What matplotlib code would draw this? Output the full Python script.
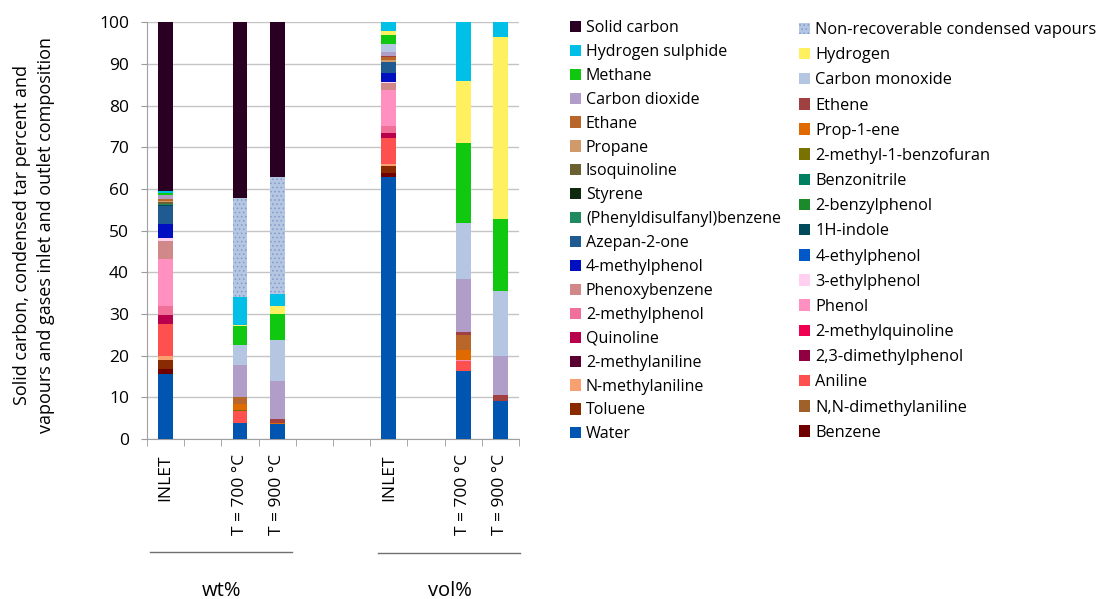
import matplotlib
matplotlib.use("Agg")
import matplotlib.pyplot as plt
from matplotlib.lines import Line2D

plt.rcParams['font.family'] = ['Open Sans', 'DejaVu Sans']
plt.rcParams['hatch.linewidth'] = 0.6

# stacking order, bottom to top
species = [
    "Water", "Benzene", "Toluene", "N,N-dimethylaniline", "N-methylaniline",
    "Aniline", "2-methylaniline", "2,3-dimethylphenol", "Quinoline",
    "2-methylquinoline", "2-methylphenol", "Phenol", "Phenoxybenzene",
    "3-ethylphenol", "4-methylphenol", "4-ethylphenol", "Azepan-2-one",
    "1H-indole", "(Phenyldisulfanyl)benzene", "2-benzylphenol", "Styrene",
    "Benzonitrile", "Isoquinoline", "2-methyl-1-benzofuran", "Propane",
    "Prop-1-ene", "Ethane", "Ethene", "Carbon dioxide", "Carbon monoxide",
    "Methane", "Hydrogen", "Hydrogen sulphide",
    "Non-recoverable condensed vapours", "Solid carbon",
]
colors = [
    "#0055b0", "#700000", "#8a2a00", "#a0602a", "#f8a070",
    "#ff5050", "#5a0030", "#900040", "#b8004c",
    "#f00050", "#f0709a", "#ff90c0", "#d08888",
    "#ffd0f0", "#0010c0", "#0058c8", "#1f5a90",
    "#004a5a", "#1f8a5f", "#1a8a2a", "#0f2a0f",
    "#008060", "#6b6030", "#7a7200", "#d09a6a",
    "#e06a00", "#b8662a", "#a04040", "#b09ec8", "#b4c6e2",
    "#10c810", "#fff060", "#00c0e8",
    "#b4c6e2", "#2a0022",
]

# slot positions (10 slots, blanks between groups)
slot_labels = ["INLET", "", "T = 700 °C", "T = 900 °C", "", "",
               "INLET", "", "T = 700 °C", "T = 900 °C"]
bar_slots = [0, 2, 3, 6, 8, 9]

wt_inlet = {"Water": 15.6, "Benzene": 1.1, "Toluene": 2.3, "N-methylaniline": 0.8,
            "Aniline": 7.7, "Quinoline": 2.3, "2-methylphenol": 2.1, "Phenol": 11.3,
            "Phenoxybenzene": 4.4, "3-ethylphenol": 0.6, "4-methylphenol": 3.4,
            "Azepan-2-one": 4.3, "1H-indole": 0.2, "(Phenyldisulfanyl)benzene": 0.4,
            "Isoquinoline": 0.3, "Propane": 0.4, "Ethane": 0.3, "Ethene": 0.2,
            "Carbon dioxide": 0.8, "Methane": 0.6, "Hydrogen sulphide": 0.5,
            "Solid carbon": 40.4}
wt_700 = {"Water": 3.8, "Aniline": 2.8, "2-methyl-1-benzofuran": 0.4, "Prop-1-ene": 1.5,
          "Ethane": 1.6, "Carbon dioxide": 7.7, "Carbon monoxide": 4.8, "Methane": 4.4,
          "Hydrogen": 0.3, "Hydrogen sulphide": 6.7,
          "Non-recoverable condensed vapours": 23.8, "Solid carbon": 42.2}
wt_900 = {"Water": 3.6, "Prop-1-ene": 0.3, "Ethene": 0.9, "Carbon dioxide": 9.1,
          "Carbon monoxide": 9.9, "Methane": 6.2, "Hydrogen": 1.8,
          "Hydrogen sulphide": 3.0, "Non-recoverable condensed vapours": 28.1,
          "Solid carbon": 37.1}
vol_inlet = {"Water": 62.9, "Benzene": 1.0, "Toluene": 1.6, "N-methylaniline": 0.5,
             "Aniline": 6.2, "Quinoline": 1.2, "2-methylphenol": 1.6, "Phenol": 8.8,
             "Phenoxybenzene": 1.6, "3-ethylphenol": 0.3, "4-methylphenol": 2.1,
             "Azepan-2-one": 2.6, "Propane": 0.5, "Ethane": 0.7, "Ethene": 0.4,
             "Carbon dioxide": 0.8, "Carbon monoxide": 2.0, "Methane": 2.2,
             "Hydrogen": 0.8, "Hydrogen sulphide": 2.2}
vol_700 = {"Water": 16.2, "Aniline": 2.4, "Phenol": 0.4, "Prop-1-ene": 2.4,
           "Ethane": 3.6, "Ethene": 0.6, "Carbon dioxide": 12.7,
           "Carbon monoxide": 13.5, "Methane": 19.3, "Hydrogen": 14.7,
           "Hydrogen sulphide": 14.2}
vol_900 = {"Water": 9.0, "Ethene": 1.6, "Carbon dioxide": 9.3,
           "Carbon monoxide": 15.6, "Methane": 17.3, "Hydrogen": 43.6,
           "Hydrogen sulphide": 3.6}

bars = [wt_inlet, wt_700, wt_900, vol_inlet, vol_700, vol_900]
W, H = 1101, 599

fig = plt.figure(figsize=(W / 100, H / 100), dpi=100)
ax = fig.add_axes([147 / W, 1 - 439 / H, (519 - 147) / W, (439 - 22.3) / H])

bottoms = [0.0] * len(bars)
handles = {}
for name, col in zip(species, colors):
    vals = [b.get(name, 0.0) for b in bars]
    hatch = "...." if name.startswith("Non-recoverable") else None
    ec = "#7f9ccc" if hatch else "none"
    h = ax.bar(bar_slots, vals, width=0.4, bottom=bottoms, color=col,
               hatch=hatch, edgecolor=ec, linewidth=0, zorder=3)
    handles[name] = h
    bottoms = [a + v for a, v in zip(bottoms, vals)]

ax.set_xlim(-0.5, 9.5)
ax.set_ylim(0, 100)
ax.set_yticks(range(0, 101, 10))
ax.set_xticks(range(10))
ax.set_xticklabels(slot_labels, rotation=90, fontsize=12.5)
ax.set_xticks([i - 0.5 for i in range(11)], minor=True)
ax.tick_params(axis="x", which="major", length=0, pad=11)
ax.tick_params(axis="x", which="minor", length=5, color="#9a9a9a")
ax.tick_params(axis="y", length=4, color="#9a9a9a", labelsize=12.5, pad=9)
ax.grid(axis="y", color="#c4c4c4", linewidth=1, zorder=0)
for s in ("top", "right"):
    ax.spines[s].set_visible(False)
for s in ("left", "bottom"):
    ax.spines[s].set_color("#a0a0a0")

fig.text(22 / W, 1 - 235 / H, "Solid carbon, condensed tar percent and",
         rotation=90, ha="center", va="center", fontsize=13)
fig.text(46 / W, 1 - 235 / H, "vapours and gases inlet and outlet composition",
         rotation=90, ha="center", va="center", fontsize=13)

# group lines and labels
fig.add_artist(Line2D([150 / W, 292 / W], [1 - 552 / H] * 2, color="#707070", lw=1))
fig.add_artist(Line2D([378 / W, 520 / W], [1 - 553 / H] * 2, color="#707070", lw=1))
fig.text(222 / W, 1 - 591 / H, "wt%", ha="center", va="center", fontsize=14.5)
fig.text(450 / W, 1 - 591 / H, "vol%", ha="center", va="center", fontsize=14.5)

# legend, two columns as in the original
rev = species[::-1]
col1, col2 = rev[0::2], rev[1::2]
leg_kw = dict(frameon=False, handlelength=0.7, handleheight=0.7,
              handletextpad=0.3, borderpad=0, borderaxespad=0, loc="upper left")
leg1 = fig.legend([handles[n] for n in col1], col1, fontsize=11.5,
                  bbox_to_anchor=(570 / W, 1 - 20 / H), labelspacing=0.495, **leg_kw)
leg2 = fig.legend([handles[n] for n in col2], col2, fontsize=11.8,
                  bbox_to_anchor=(799 / W, 1 - 22 / H), labelspacing=0.56, **leg_kw)

fig.savefig("out.png", dpi=100)
